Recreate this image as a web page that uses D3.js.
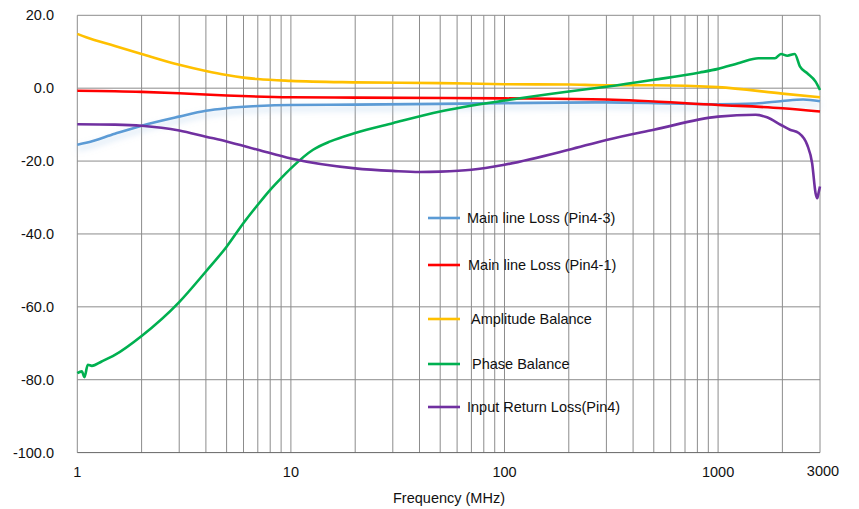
<html>
<head>
    <script src="https://d3js.org/d3.v7.min.js"></script>
    <style>
        body { margin: 0; background: #fff; }
        text { font-family: "Liberation Sans", Arial, sans-serif; fill: #111; }
    </style>
</head>
<body>
    <svg id="svg" width="859" height="509"></svg>

    <script>
        // **** Data ****
        const yTicks = [20, 0, -20, -40, -60, -80, -100]
        const xTickLabels = [1, 10, 100, 1000, 3000]
        const xGrid = [1, 2, 3, 4, 5, 6, 7, 8, 9, 10, 20, 30, 40, 50, 60, 70, 80, 90,
            100, 200, 300, 400, 500, 600, 700, 800, 900, 1000, 2000, 3000]

        const blueFreq = [1, 1.1, 1.5, 2, 3, 4, 5, 7, 10, 20, 50, 100, 300, 600, 1000, 1500, 2000, 2500, 3000]
        const blueVal = [-15.5, -15.0, -12.5, -10.3, -7.8, -6.2, -5.5, -4.9, -4.6, -4.5, -4.3, -4.1, -3.9, -4.2, -4.4, -4.2, -3.5, -3.1, -3.6]

        const redFreq = [1, 2, 3, 5, 10, 20, 100, 300, 1000, 2000, 3000]
        const redVal = [-0.7, -1.0, -1.4, -2.0, -2.5, -2.6, -2.8, -3.1, -4.6, -5.5, -6.4]

        const yellowFreq = [1, 1.1, 1.5, 2, 3, 4, 5, 6, 7, 10, 20, 50, 100, 200, 300, 500, 1000, 2000, 3000]
        const yellowVal = [14.9, 14.0, 11.6, 9.4, 6.4, 4.7, 3.6, 2.9, 2.5, 2.0, 1.6, 1.4, 1.1, 1.0, 0.8, 0.8, 0.3, -1.5, -2.5]

        const greenFreq = [1, 1.05, 1.08, 1.12, 1.17, 1.3, 1.5, 2, 3, 4, 5, 6, 7, 8, 9, 10, 12.7, 15.3, 20, 30, 50,
            100, 200, 300, 500, 821, 1000, 1266, 1545, 1845, 1970, 2110, 2285, 2415, 2615, 2860, 3000]
        const greenVal = [-78.2, -77.7, -79.3, -75.9, -76.2, -75.0, -73.2, -68.0, -58.7, -50.3, -43.5, -37.0, -32.0, -27.9, -24.7, -22.0, -16.9, -14.6, -12.3, -9.6, -6.4,
            -3.4, -0.9, 0.4, 2.3, 4.3, 5.3, 7.0, 8.2, 8.2, 9.4, 8.9, 9.4, 6.0, 4.1, 1.8, -0.5]

        const purpleFreq = [1, 1.5, 2, 3, 4, 5, 7, 10, 20, 30, 40, 50, 70, 100, 200, 300, 500, 1000, 1500, 1694, 1970, 2170,
            2386, 2615, 2756, 2860, 2910, 2960, 3000]
        const purpleVal = [-9.9, -10.0, -10.3, -11.6, -13.3, -14.6, -16.9, -19.3, -22.0, -22.7, -23.0, -22.9, -22.4, -21.0, -16.9, -14.2, -11.4, -7.8, -7.3, -8.0, -10.1, -11.4,
            -12.3, -15.6, -20.6, -28.8, -30.2, -28.5, -27.0]

        const seriesNames = ['Main line Loss (Pin4-3)', 'Main line Loss (Pin4-1)', 'Amplitude Balance', 'Phase Balance', 'Input Return Loss(Pin4)']
        const seriesColors = ['#5b9bd5', '#ff0000', '#ffc000', '#00b050', '#7030a0']
        const seriesFreq = [blueFreq, redFreq, yellowFreq, greenFreq, purpleFreq]
        const seriesVal = [blueVal, redVal, yellowVal, greenVal, purpleVal]

        // **** Scales ****
        const x = d3.scaleLog().domain([1, 3000]).range([77.3, 820])
        const y = d3.scaleLinear().domain([-100, 20]).range([452.6, 15.3])

        const svg = d3.select('#svg')

        const defs = svg.append('defs')
        const glow = defs.append('filter').attr('id', 'glow')
            .attr('x', '-5%').attr('y', '-50%').attr('width', '110%').attr('height', '300%')
        glow.append('feDropShadow')
            .attr('dx', 0).attr('dy', 4).attr('stdDeviation', 3)
            .attr('flood-color', '#9dc3e6').attr('flood-opacity', 0.6)

        // grid
        svg.append('g').selectAll('line.v')
            .data(xGrid)
            .enter().append('line')
            .attr('x1', d => x(d)).attr('x2', d => x(d))
            .attr('y1', y(20)).attr('y2', y(-100))
            .attr('stroke', '#8c8c8c').attr('stroke-width', 1)

        svg.append('g').selectAll('line.h')
            .data(yTicks)
            .enter().append('line')
            .attr('x1', x(1)).attr('x2', x(3000))
            .attr('y1', d => y(d)).attr('y2', d => y(d))
            .attr('stroke', d => d === -100 ? '#666' : '#8c8c8c').attr('stroke-width', 1)

        // y labels
        svg.append('g').selectAll('text')
            .data(yTicks)
            .enter().append('text')
            .attr('x', 54).attr('y', d => y(d) + 5)
            .attr('text-anchor', 'end')
            .attr('font-size', 14.5)
            .text(d => d.toFixed(1))

        // x labels
        svg.append('g').selectAll('text')
            .data(xTickLabels)
            .enter().append('text')
            .attr('x', d => x(d) + (d === 3000 ? 3 : 0)).attr('y', d => d === 3000 ? 476 : 477)
            .attr('text-anchor', 'middle')
            .attr('font-size', 14.5)
            .text(d => d)

        svg.append('text')
            .attr('x', 449).attr('y', 503)
            .attr('text-anchor', 'middle')
            .attr('font-size', 14.5)
            .text('Frequency (MHz)')

        // curves
        const line = d3.line()
            .x(d => x(d[0]))
            .y(d => y(d[1]))
            .curve(d3.curveMonotoneX)

        seriesNames.forEach((name, i) => {
            const pts = seriesFreq[i].map((f, j) => [f, seriesVal[i][j]])
            svg.append('path')
                .datum(pts)
                .attr('d', line)
                .attr('fill', 'none')
                .attr('stroke', seriesColors[i])
                .attr('stroke-width', 2.6)
                .attr('stroke-linejoin', 'round')
                .attr('filter', i === 0 ? 'url(#glow)' : null)
        })

        // legend
        const legendY = [218, 265, 319, 364, 407]
        const legendTextX = [467, 468, 471, 472, 467]
        const legend = svg.append('g')
        seriesNames.forEach((name, i) => {
            legend.append('line')
                .attr('x1', 428).attr('x2', 460)
                .attr('y1', legendY[i]).attr('y2', legendY[i])
                .attr('stroke', seriesColors[i]).attr('stroke-width', 2.6)
            legend.append('text')
                .attr('x', legendTextX[i]).attr('y', legendY[i] + 5)
                .attr('font-size', 14.5)
                .text(name)
        })
    </script>
</body>
</html>
